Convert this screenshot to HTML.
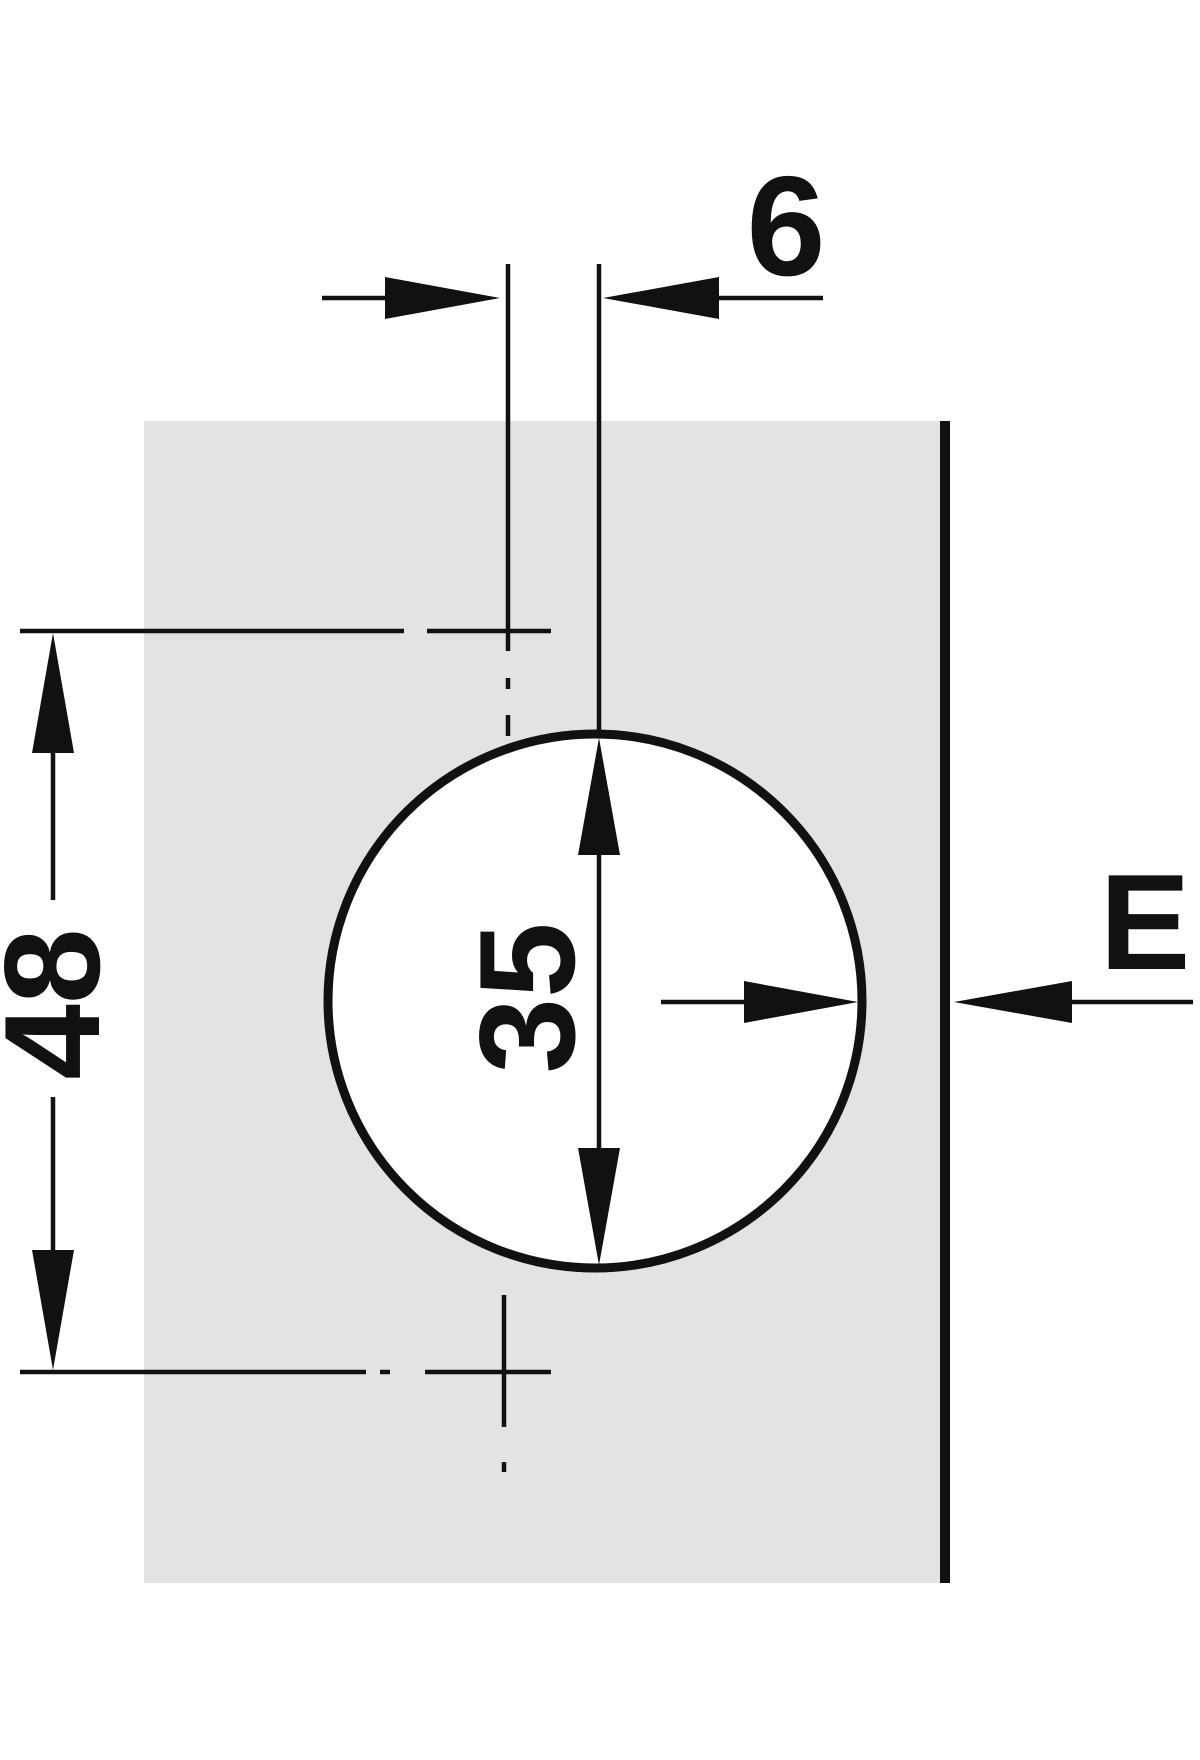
<!DOCTYPE html>
<html><head><meta charset="utf-8"><style>html,body{margin:0;padding:0;background:#fff}svg{display:block}</style></head>
<body>
<svg width="1200" height="1760" viewBox="0 0 1200 1760" xmlns="http://www.w3.org/2000/svg">
<rect x="144" y="421" width="800" height="1162" fill="#e2e3e5"/>
<line x1="945" y1="421" x2="945" y2="1583" stroke="#111" stroke-width="10"/>
<circle cx="595" cy="1001" r="267" fill="#fff" stroke="#111" stroke-width="9"/>
<g stroke="#111" stroke-width="4.5" fill="none">
<line x1="508" y1="264" x2="508" y2="651"/>
<line x1="508" y1="678" x2="508" y2="689"/>
<line x1="508" y1="715" x2="508" y2="736"/>
<line x1="599" y1="264" x2="599" y2="735"/>
<line x1="322" y1="298" x2="440" y2="298"/>
<line x1="660" y1="298" x2="823" y2="298"/>
<line x1="20" y1="631" x2="404" y2="631"/>
<line x1="427" y1="631" x2="551" y2="631"/>
<line x1="20" y1="1372" x2="366" y2="1372"/>
<line x1="380" y1="1372" x2="390" y2="1372"/>
<line x1="425" y1="1372" x2="551" y2="1372"/>
<line x1="504" y1="1295" x2="504" y2="1427"/>
<line x1="504" y1="1462" x2="504" y2="1472"/>
<line x1="53" y1="700" x2="53" y2="900"/>
<line x1="53" y1="1097" x2="53" y2="1300"/>
<line x1="599" y1="800" x2="599" y2="1200"/>
<line x1="661" y1="1002" x2="760" y2="1002"/>
<line x1="1060" y1="1002" x2="1193" y2="1002"/>
</g>
<g fill="#111">
<polygon points="500,298 385,277 385,319"/>
<polygon points="603,298 719,277 719,319"/>
<polygon points="53,633 32,753 74,753"/>
<polygon points="53,1370 32,1250 74,1250"/>
<polygon points="599,738 578,855 620,855"/>
<polygon points="599,1265 578,1148 620,1148"/>
<polygon points="858,1002 744,981 744,1023"/>
<polygon points="954,1002 1072,981 1072,1023"/>
</g>
<g font-family="Liberation Sans, sans-serif" font-weight="bold" fill="#111">
<text x="786" y="275" font-size="142" text-anchor="middle">6</text>
<text x="1145" y="969" font-size="136" text-anchor="middle">E</text>
<text transform="translate(99,1004) rotate(-90)" font-size="136" text-anchor="middle">48</text>
<text transform="translate(574,998) rotate(-90)" font-size="136" text-anchor="middle">35</text>
</g>
</svg>
</body></html>
